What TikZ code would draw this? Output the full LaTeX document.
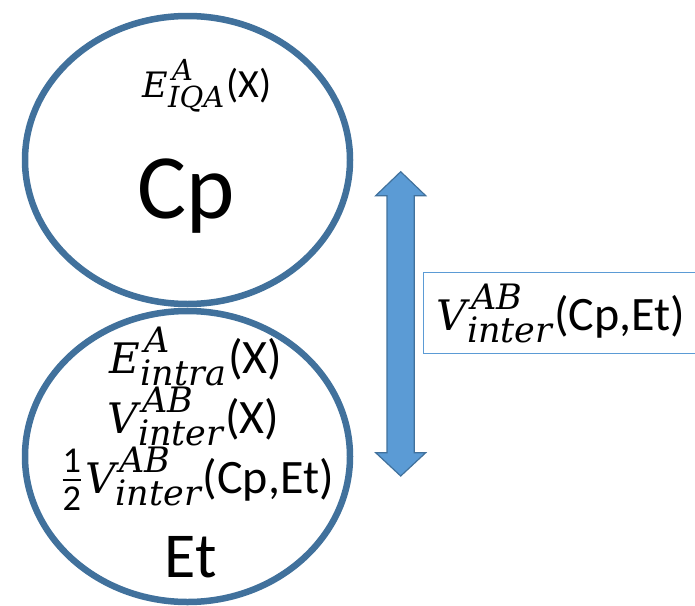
\documentclass[tikz,border=0pt]{standalone}
\usepackage{amsmath}
\usepackage{fontspec}
\usepackage{unicode-math}
\setmainfont{Carlito}
\setmathfont{Latin Modern Math}
\newfontfamily\mifont{DejaVu Serif}
\usetikzlibrary{shapes.geometric}
\definecolor{ringblue}{HTML}{41719C}
\definecolor{fillblue}{HTML}{5B9BD5}
% #1 base, #2 sup, #3 sub, #4 base size, #5 script size
\newcommand\ssx[5]{{\fontsize{#4}{#4}\selectfont\mifont\itshape #1}%
  \rlap{\kern4pt\raisebox{0.42em}{\fontsize{#5}{#5}\selectfont\mifont\itshape #2}}%
  \raisebox{-0.25em}{\fontsize{#5}{#5}\selectfont\mifont\itshape #3}\kern2pt}
\newcommand\halffrac{{\fontsize{52}{52}\selectfont$\frac{\text{1}}{\text{2}}$}\kern3pt}
\tikzset{
  ring/.style={ellipse, draw=ringblue, line width=6.5pt, inner sep=0pt},
  mtxt/.style={anchor=base, inner sep=0pt, font=\fontsize{48}{58}\selectfont},
  toptxt/.style={anchor=base, inner sep=0pt, font=\fontsize{40}{48}\selectfont},
  arrowshape/.style={fill=fillblue, draw=ringblue, line width=1.2pt, line join=miter},
  labelbox/.style={draw=fillblue, line width=1.6pt, minimum width=272pt, minimum height=81pt, inner sep=0pt}
}
\begin{document}
\begin{tikzpicture}[x=1pt,y=-1pt]
\useasboundingbox (0,0) rectangle (695,605);
% circles
\node[ring, minimum width=325pt, minimum height=288pt] (cp) at (187.5,160) {};
\node[ring, minimum width=325pt, minimum height=291pt] (et) at (187.5,456.5) {};
% top texts
\node[toptxt] (eiqa) at (207,97) {\ssx{E}{A}{IQA}{35}{29}(X)};
\node[anchor=base, inner sep=0pt, font=\fontsize{92}{100}\selectfont] (cplabel) at (186,218) {Cp};
% bottom texts
\node[mtxt] (eintra) at (196,373) {\ssx{E}{A}{intra}{42}{35}(X)};
\node[mtxt] (vinter) at (193.5,433) {\ssx{V}{AB}{inter}{42}{35}(X)};
\node[mtxt] (half) at (197.5,493) {\halffrac\ssx{V}{AB}{inter}{42}{35}(Cp,Et)};
\node[anchor=base, inner sep=0pt, font=\fontsize{64}{70}\selectfont] (etlabel) at (190.5,577) {Et};
% double arrow
\coordinate (tipT) at (400.7,171.7);
\coordinate (tipB) at (400.7,476);
\draw[arrowshape] (tipT) -- (425.7,195.7) -- (414.3,195.7) -- (414.3,452.7) -- (425.7,452.7)
  -- (tipB) -- (375.7,452.7) -- (387,452.7) -- (387,195.7) -- (375.7,195.7) -- cycle;
% label box
\node[labelbox] (box) at (559.3,313) {};
\node[mtxt] (boxtxt) at (561,330) {\ssx{V}{AB}{inter}{42}{35}(Cp,Et)};
\end{tikzpicture}
\end{document}
